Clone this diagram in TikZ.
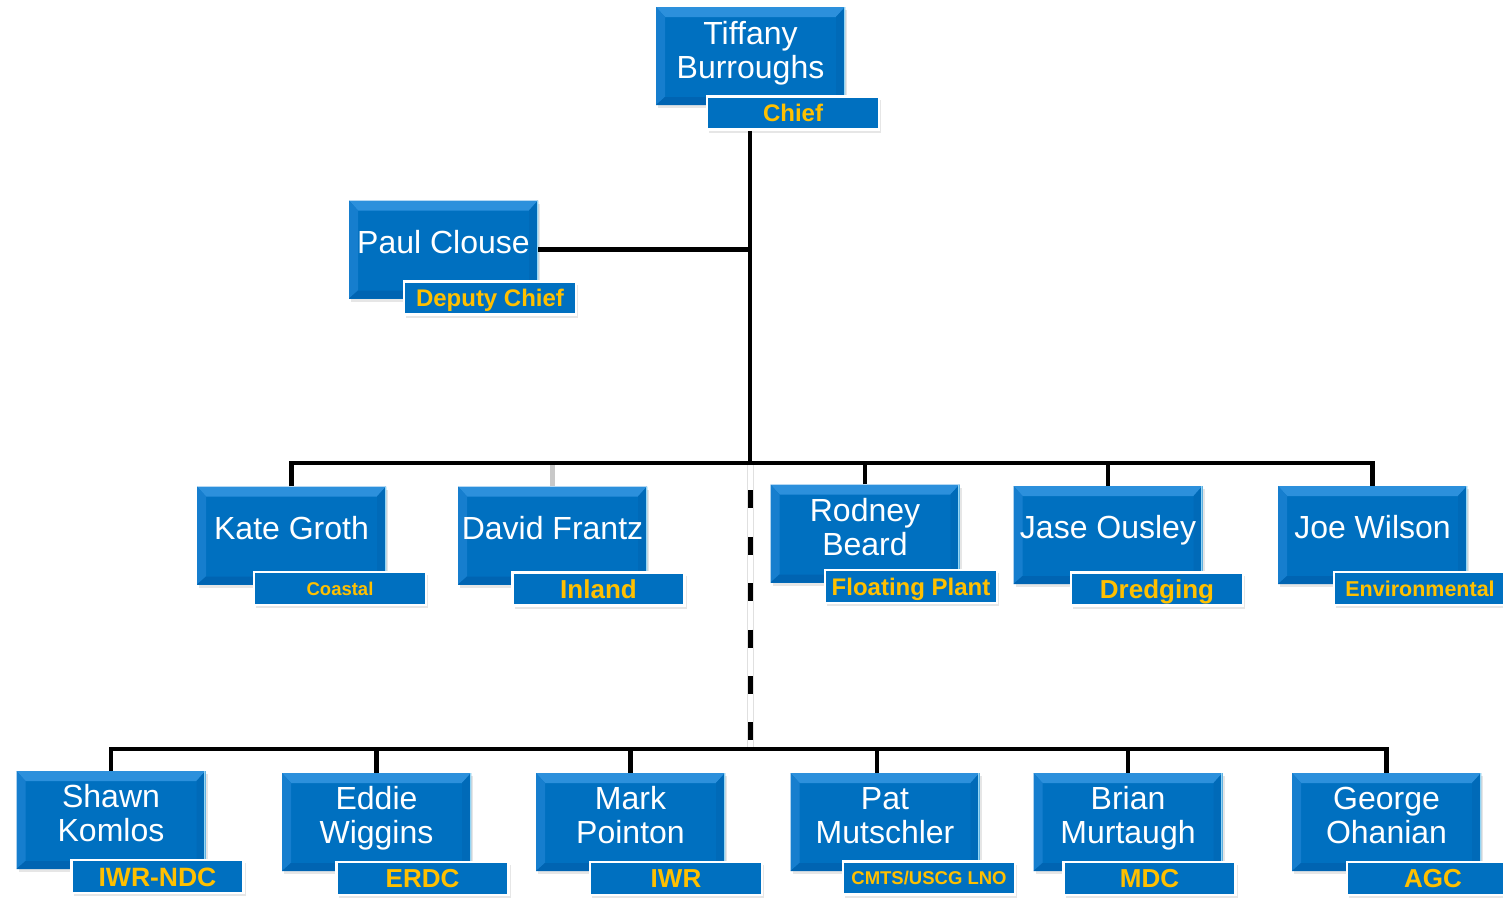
\documentclass[tikz,border=0pt]{standalone}
\usepackage{fontspec}
\setmainfont{Liberation Sans}
\usetikzlibrary{shadows}
\definecolor{bx}{RGB}{0,112,192}
\definecolor{bxtop}{RGB}{44,144,220}
\definecolor{bxleft}{RGB}{22,126,206}
\definecolor{bxbot}{RGB}{0,100,178}
\definecolor{bxright}{RGB}{0,106,184}
\definecolor{bxedge}{RGB}{150,215,245}
\definecolor{lbltxt}{RGB}{255,192,0}
\definecolor{dropgray}{RGB}{200,200,200}
\begin{document}
\begin{tikzpicture}[x=1pt,y=-1pt,
  person/.style={rectangle, fill=bx, minimum width=189pt, minimum height=98pt, inner sep=0pt,
    drop shadow={shadow xshift=2pt,shadow yshift=-3pt,opacity=0.2},
    path picture={
      \fill[bxtop] (path picture bounding box.north west) -- (path picture bounding box.north east)
        -- ([shift={(-9pt,-10pt)}]path picture bounding box.north east)
        -- ([shift={(9pt,-10pt)}]path picture bounding box.north west) -- cycle;
      \fill[bxleft] (path picture bounding box.north west) -- (path picture bounding box.south west)
        -- ([shift={(9pt,8pt)}]path picture bounding box.south west)
        -- ([shift={(9pt,-10pt)}]path picture bounding box.north west) -- cycle;
      \fill[bxbot] (path picture bounding box.south west) -- (path picture bounding box.south east)
        -- ([shift={(-9pt,8pt)}]path picture bounding box.south east)
        -- ([shift={(9pt,8pt)}]path picture bounding box.south west) -- cycle;
      \fill[bxright] (path picture bounding box.north east) -- (path picture bounding box.south east)
        -- ([shift={(-9pt,8pt)}]path picture bounding box.south east)
        -- ([shift={(-9pt,-10pt)}]path picture bounding box.north east) -- cycle;
      \draw[bxedge, line width=2.5pt] (path picture bounding box.north east) -- (path picture bounding box.south east);
    }},
  nm/.style={text=white, font=\fontsize{32pt}{34pt}\selectfont, inner sep=0pt, anchor=base},
  lbl/.style={rectangle, fill=bx, draw=white, line width=2.5pt, minimum width=172pt, minimum height=33pt,
    inner sep=0pt, text=lbltxt, font=\fontsize{#1pt}{#1pt}\bfseries\selectfont,
    text height={0.72*#1pt}, text depth=0pt,
    drop shadow={shadow xshift=2pt,shadow yshift=-3pt,opacity=0.2}},
  conn/.style={line width=4.5pt, black},
  grayconn/.style={line width=4.5pt, dropgray},
  dashback/.style={line width=7pt, black!12},
  dashwhite/.style={line width=5pt, white},
  dashblack/.style={line width=5pt, black, dash pattern=on 18pt off 28.4pt, dash phase=19pt}
]
\useasboundingbox (0,0) rectangle (1503,897);

% ---- boxes ----
\node[person] (tb) at (750.5,56) {};
\node[nm] (tbA) at ([yshift=-38pt]tb.north) {Tiffany};
\node[nm] (tbB) at ([yshift=-72pt]tb.north) {Burroughs};
\node[lbl=24] (tbL) at (793,113) {Chief};

\node[person] (paul) at (443.5,249.5) {};
\node[nm] (paulA) at ([yshift=-53pt]paul.north) {Paul Clouse};
\node[lbl=24] (paulL) at (490,298) {Deputy Chief};

\node[person] (kate) at (291.5,535.5) {};
\node[nm] (kateA) at ([yshift=-53pt]kate.north) {Kate Groth};
\node[lbl=18.5] (kateL) at (340,588.5) {Coastal};

\node[person] (david) at (552.5,535.5) {};
\node[nm] (davidA) at ([yshift=-53pt]david.north) {David Frantz};
\node[lbl=26] (davidL) at (598.5,589) {Inland};

\node[person] (rodney) at (865,533.5) {};
\node[nm] (rodneyA) at ([yshift=-37pt]rodney.north) {Rodney};
\node[nm] (rodneyB) at ([yshift=-71pt]rodney.north) {Beard};
\node[lbl=24] (rodneyL) at (911,586.5) {Floating Plant};

\node[person] (jase) at (1108,535) {};
\node[nm] (jaseA) at ([yshift=-53pt]jase.north) {Jase Ousley};
\node[lbl=26] (jaseL) at (1157,589) {Dredging};

\node[person] (joe) at (1372.5,535) {};
\node[nm] (joeA) at ([yshift=-53pt]joe.north) {Joe Wilson};
\node[lbl=21.5] (joeL) at (1420,588.5) {Environmental};

\node[person] (shawn) at (111,820) {};
\node[nm] (shawnA) at ([yshift=-37pt]shawn.north) {Shawn};
\node[nm] (shawnB) at ([yshift=-71pt]shawn.north) {Komlos};
\node[lbl=26.5] (shawnL) at (157.5,876.5) {IWR-NDC};

\node[person] (eddie) at (376.5,822) {};
\node[nm] (eddieA) at ([yshift=-37pt]eddie.north) {Eddie};
\node[nm] (eddieB) at ([yshift=-71pt]eddie.north) {Wiggins};
\node[lbl=26] (eddieL) at (422.5,878.5) {ERDC};

\node[person] (mark) at (630.5,822) {};
\node[nm] (markA) at ([yshift=-37pt]mark.north) {Mark};
\node[nm] (markB) at ([yshift=-71pt]mark.north) {Pointon};
\node[lbl=26] (markL) at (676,878.5) {IWR};

\node[person] (pat) at (885,822) {};
\node[nm] (patA) at ([yshift=-37pt]pat.north) {Pat};
\node[nm] (patB) at ([yshift=-71pt]pat.north) {Mutschler};
\node[lbl=18.5] (patL) at (929,878) {CMTS/USCG LNO};

\node[person] (brian) at (1128,822) {};
\node[nm] (brianA) at ([yshift=-37pt]brian.north) {Brian};
\node[nm] (brianB) at ([yshift=-71pt]brian.north) {Murtaugh};
\node[lbl=26] (brianL) at (1149.5,878.5) {MDC};

\node[person] (george) at (1386.5,822) {};
\node[nm] (georgeA) at ([yshift=-37pt]george.north) {George};
\node[nm] (georgeB) at ([yshift=-71pt]george.north) {Ohanian};
\node[lbl=26] (georgeL) at (1433,878.5) {AGC};

% ---- connectors ----
\coordinate (b1) at (750,463);
\coordinate (b2) at (750,749);
\coordinate (patc) at (877,773);

\draw[dashback] (b1) -- (b2);
\draw[dashwhite] (b1) -- (b2);
\draw[dashblack] (b1) -- (b2);

\draw[conn] (b1 |- tbL.south) -- (b1);
\draw[conn] (paul.east) -- (paul.east -| b1);

\draw[grayconn] (david.north) -- (david.north |- b1);
\draw[conn] (kate.north) -- (kate.north |- b1) -- (joe.north |- b1) -- (joe.north);
\draw[conn] (rodney.north) -- (rodney.north |- b1);
\draw[conn] (jase.north) -- (jase.north |- b1);

\draw[conn] (shawn.north) -- (shawn.north |- b2) -- (george.north |- b2) -- (george.north);
\draw[conn] (eddie.north) -- (eddie.north |- b2);
\draw[conn] (mark.north) -- (mark.north |- b2);
\draw[conn] (patc) -- (patc |- b2);
\draw[conn] (brian.north) -- (brian.north |- b2);
\end{tikzpicture}
\end{document}
